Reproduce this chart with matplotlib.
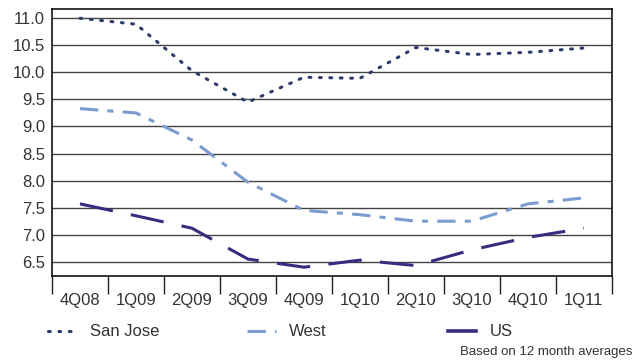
import matplotlib
matplotlib.use("Agg")
import matplotlib.pyplot as plt
from matplotlib.lines import Line2D

plt.rcParams['font.family'] = ['Liberation Sans', 'DejaVu Sans']

# Trimestres e séries (médias de 12 meses)
quarters = ["4Q08", "1Q09", "2Q09", "3Q09", "4Q09", "1Q10", "2Q10", "3Q10", "4Q10", "1Q11"]
san_jose = [11.00, 10.89, 10.03, 9.45, 9.91, 9.89, 10.46, 10.33, 10.37, 10.45]
west = [9.33, 9.25, 8.75, 7.97, 7.45, 7.37, 7.25, 7.25, 7.57, 7.68]
us = [7.57, 7.35, 7.12, 6.55, 6.40, 6.53, 6.43, 6.72, 6.95, 7.12]

y_ticks = [6.5, 7.0, 7.5, 8.0, 8.5, 9.0, 9.5, 10.0, 10.5, 11.0]

c_sj = "#2e3b6c"
c_west = "#7a9ccf"
c_us = "#3a2a80"
txt = "#333333"

ls_sj = (0, (0.6, 2.8))
ls_west = (0, (6, 3, 2, 3))
ls_us = (0, (11, 6))

fig = plt.figure(figsize=(6.34, 3.62), dpi=100)
ax = fig.add_axes([0.082, 0.238, 0.883, 0.737])

x = [i + 0.5 for i in range(len(quarters))]
ax.plot(x, san_jose, color=c_sj, lw=2.2, linestyle=ls_sj, dash_capstyle='round')
ax.plot(x, west, color=c_west, lw=2.2, linestyle=ls_west)
ax.plot(x, us, color=c_us, lw=2.2, linestyle=ls_us)

ax.set_xlim(0, len(quarters))
ax.set_ylim(6.24, 11.17)
ax.set_yticks(y_ticks)
ax.set_yticklabels([f"{v:.1f}" for v in y_ticks], fontsize=12, color=txt)
ax.tick_params(axis='y', length=0, pad=5)

# marcas de divisão entre trimestres, rótulos centralizados
ax.set_xticks(range(len(quarters) + 1))
ax.set_xticklabels([])
ax.set_xticks(x, minor=True)
ax.set_xticklabels(quarters, minor=True, fontsize=12, color=txt)
ax.tick_params(axis='x', which='major', length=13, width=1, color="#222222", direction='out')
ax.tick_params(axis='x', which='minor', length=0, pad=12)

ax.grid(True, axis='y', color="#444444", lw=1)
for s in ax.spines.values():
    s.set_color("#111111")
    s.set_linewidth(1.2)

# legenda: cada item numa posição fixa
items = [
    ("San Jose", Line2D([], [], color=c_sj, lw=2.2, linestyle=ls_sj, dash_capstyle='round'), 0.076),
    ("West", Line2D([], [], color=c_west, lw=2.2, linestyle=ls_west), 0.390),
    ("US", Line2D([], [], color=c_us, lw=2.6), 0.706),
]
for label, h, x0 in items:
    fig.legend([h], [label], loc='center left', bbox_to_anchor=(x0, 0.083),
               frameon=False, fontsize=12, handlelength=1.7, handletextpad=0.8,
               borderaxespad=0, borderpad=0, labelcolor=txt)

fig.text(0.998, 0.028, "Based on 12 month averages", ha='right', va='center',
         fontsize=9.5, color=txt)

fig.savefig("out.png", dpi=100)
